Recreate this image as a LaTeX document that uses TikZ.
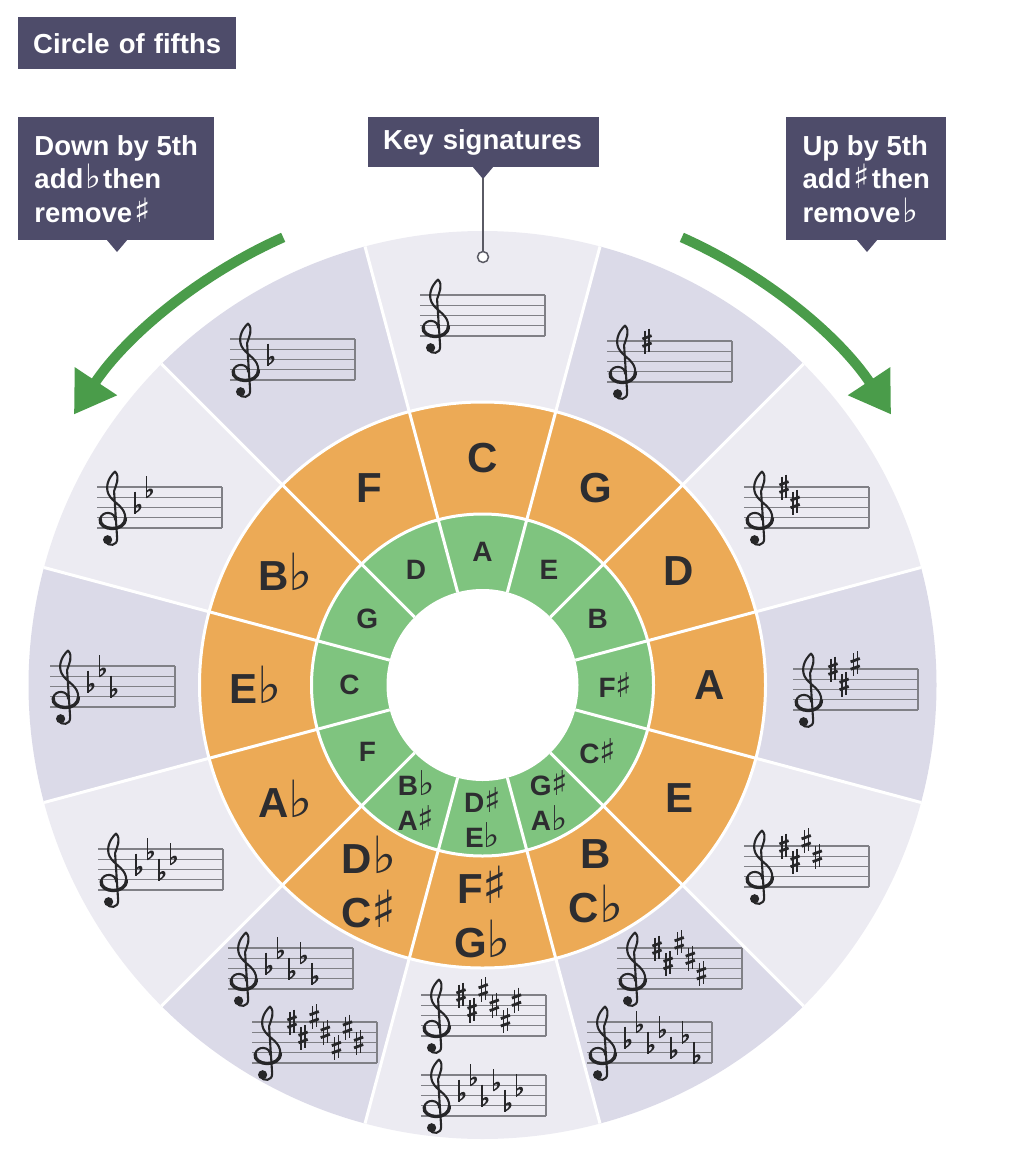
\documentclass[tikz,border=0pt]{standalone}
\usepackage{fontspec}
\setmainfont{Liberation Sans}
\newfontfamily\accfont[Scale=1.22]{DejaVu Sans}
\usetikzlibrary{arrows.meta,calc}
\definecolor{lightseg}{RGB}{236,235,242}
\definecolor{darkseg}{RGB}{219,218,232}
\definecolor{orangeseg}{RGB}{236,170,86}
\definecolor{greenseg}{RGB}{127,196,127}
\definecolor{boxbg}{RGB}{78,76,106}
\definecolor{labeltext}{RGB}{45,45,48}
\definecolor{arrowgreen}{RGB}{74,156,74}
\definecolor{staffgray}{RGB}{128,128,134}
\definecolor{inkcol}{RGB}{38,38,40}
\definecolor{pingray}{RGB}{90,90,100}

\newcommand{\fl}{{\accfont\mdseries ♭}}
\newcommand{\sh}{{\accfont\mdseries ♯}}

\newcommand{\gclef}[2]{%
 \begin{scope}[shift={({#1},{#2})},scale=10.25]
  \draw[inkcol, line width=2.1pt, line cap=round, line join=round]
   (0.35,0.2) .. controls (0.4,-0.6) and (-0.9,-0.75) .. (-1.1,0.1)
   (1.35,0.05) .. controls (1.35,-1.0) and (0.4,-1.35) .. (-0.1,-2.0)
   .. controls (-0.75,-2.8) and (-0.35,-3.9) .. (0.35,-4.5)
   .. controls (0.85,-4.0) and (0.45,-3.2) .. (0.25,-2.6)
   -- (0.55,2.0)
   .. controls (0.6,2.75) and (-0.3,2.85) .. (-0.6,2.3);
  \draw[inkcol, line width=3.4pt, line cap=round]
   (-1.1,0.1) .. controls (-1.3,1.3) and (1.35,1.45) .. (1.35,0.05);
  \fill[inkcol] (-0.38,2.15) circle[radius=0.45];
 \end{scope}}

\newcommand{\sharpat}[2]{%
 \begin{scope}[shift={({#1},{#2})}]
  \draw[inkcol, line width=1.3pt] (-2,-10.5) -- (-2,12.5) (2,-12.5) -- (2,10.5);
  \draw[inkcol, line width=2.8pt] (-4.6,-2) -- (4.6,-5.4) (-4.6,5.4) -- (4.6,2);
 \end{scope}}

\newcommand{\flatat}[2]{%
 \begin{scope}[shift={({#1},{#2})}]
  \draw[inkcol, line width=1.4pt] (0,-16) -- (0,6.2);
  \fill[inkcol] (0,6.2) .. controls (4.5,3.6) and (7.8,0.5) .. (6.1,-2.6)
    .. controls (4.6,-4.8) and (1.3,-3.0) .. (0,-1.4) -- (0,0.6)
    .. controls (1.5,-1.3) and (3.9,-1.9) .. (4.2,-0.4)
    .. controls (4.4,1.5) and (2.4,3.4) .. (0,4.6) -- cycle;
 \end{scope}}

\newcommand{\keystaff}[2]{%
 \foreach \k in {0,...,4} \draw[staffgray, line width=1.4pt] (#1,#2+\k*10.25) -- ++(125,0);
 \draw[staffgray, line width=1.4pt] (#1+125,#2) -- ++(0,41);
 \gclef{#1+14.5}{#2+30.75}}

\newcommand{\sharps}[3]{%
 \foreach \p [count=\i from 0] in {8,5,9,6,3,7,4} {\ifnum\i<#3\relax \sharpat{#1+40+11.1*\i}{#2+(8-\p)*5.125}\fi}}
\newcommand{\flats}[3]{%
 \foreach \p [count=\i from 0] in {4,7,3,6,2,5,1} {\ifnum\i<#3\relax \flatat{#1+38+11.5*\i}{#2+(8-\p)*5.125}\fi}}

\tikzset{
 callout/.style={fill=boxbg, text=white, font=\fontsize{27.5}{33.5}\selectfont\bfseries,
   align=left, anchor=north west, inner ysep=0pt},
 olabel/.style={text=labeltext, font=\fontsize{42}{54}\selectfont\bfseries, align=center, inner sep=0pt},
 glabel/.style={text=labeltext, font=\fontsize{28}{35}\selectfont\bfseries, align=center, inner sep=0pt},
 sep/.style={white, line width=3pt},
 bigarrow/.style={arrowgreen, line width=10pt, -{Triangle[width=48pt,length=40pt]}},
 pinline/.style={pingray, line width=1.5pt}
}

\begin{document}
\begin{tikzpicture}[x=1pt,y=-1pt]
\useasboundingbox (0,0) rectangle (1024,1166);
\coordinate (C) at (482.5,685);

% outer sectors
\foreach \k in {0,...,11} {
  \pgfmathsetmacro\a{30*\k-90}
  \ifodd\k \def\sc{darkseg}\else\def\sc{lightseg}\fi
  \fill[fill=\sc] (C) -- ([shift={(\a-15:454)}]C) arc[start angle=\a-15, end angle=\a+15, radius=454] -- cycle;
}
\fill[orangeseg] (C) circle[radius=283];
\fill[greenseg] (C) circle[radius=171];
\fill[white] (C) circle[radius=96];
\foreach \k in {0,...,11}
  \draw[sep] ([shift={(30*\k-75:96)}]C) -- ([shift={(30*\k-75:454)}]C);
\draw[sep] (C) circle[radius=171] (C) circle[radius=283];

% key name labels
\foreach \k/\t in {0/C,1/G,2/D,3/A,4/E,5/{B\\C\fl},6/{F\sh\\G\fl},7/{D\fl\\C\sh},8/{A\fl},9/{E\fl},10/{B\fl},11/F}
  \node[olabel] (o\k) at ([shift={(30*\k-90:227)}]C) {\t};
\foreach \k/\t in {0/A,1/E,2/B,3/{F\sh},4/{C\sh},5/{G\sh\\A\fl},6/{D\sh\\E\fl},7/{B\fl\\A\sh},8/F,9/C,10/G,11/D}
  \node[glabel] (g\k) at ([shift={(30*\k-90:133)}]C) {\t};

% staves
\keystaff{420}{295}
\keystaff{607}{341} \sharps{607}{341}{1}
\keystaff{744}{487} \sharps{744}{487}{2}
\keystaff{793}{669} \sharps{793}{669}{3}
\keystaff{744}{846} \sharps{744}{846}{4}
\keystaff{617}{948} \sharps{617}{948}{5}
\keystaff{587}{1022} \flats{587}{1022}{7}
\keystaff{421}{995} \sharps{421}{995}{6}
\keystaff{421}{1075} \flats{421}{1075}{6}
\keystaff{228}{948} \flats{228}{948}{5}
\keystaff{252}{1022} \sharps{252}{1022}{7}
\keystaff{98}{849} \flats{98}{849}{4}
\keystaff{50}{666} \flats{50}{666}{3}
\keystaff{97}{487} \flats{97}{487}{2}
\keystaff{230}{339} \flats{230}{339}{1}

% arrows
\draw[bigarrow] ([shift={(-114:490)}]C) arc[start angle=-114, end angle=-146.5, radius=490];
\draw[bigarrow] ([shift={(-66:490)}]C) arc[start angle=-66, end angle=-33.5, radius=490];

% callouts
\node[callout, minimum width=218pt, minimum height=52pt, text width=188pt, inner xsep=15pt] (title) at (18,17) {Circle of fifths};
\node[callout, minimum width=196pt, minimum height=123pt, inner xsep=0pt] (down) at (18,117) {Down by 5th\\add\hspace{2pt}\fl\hspace{2pt}then\\remove\hspace{2pt}\sh};
\fill[boxbg] (106,239) -- (128,239) -- (117,252) -- cycle;
\node[callout, minimum width=231pt, minimum height=50pt, text width=201pt, inner xsep=15pt] (keysig) at (368,117) {Key signatures};
\fill[boxbg] (472,166) -- (494,166) -- (483,179) -- cycle;
\node[callout, minimum width=160pt, minimum height=123pt, inner xsep=0pt] (up) at (786,117) {Up by 5th\\add\hspace{2pt}\sh\hspace{2pt}then\\remove\hspace{2pt}\fl};
\fill[boxbg] (856,239) -- (878,239) -- (867,252) -- cycle;
\coordinate (pin) at (483,257);
\draw[pinline] (483,178) -- ([yshift=-5.5pt]pin);
\draw[pinline, fill=white] (pin) circle[radius=5.5];
\end{tikzpicture}
\end{document}
